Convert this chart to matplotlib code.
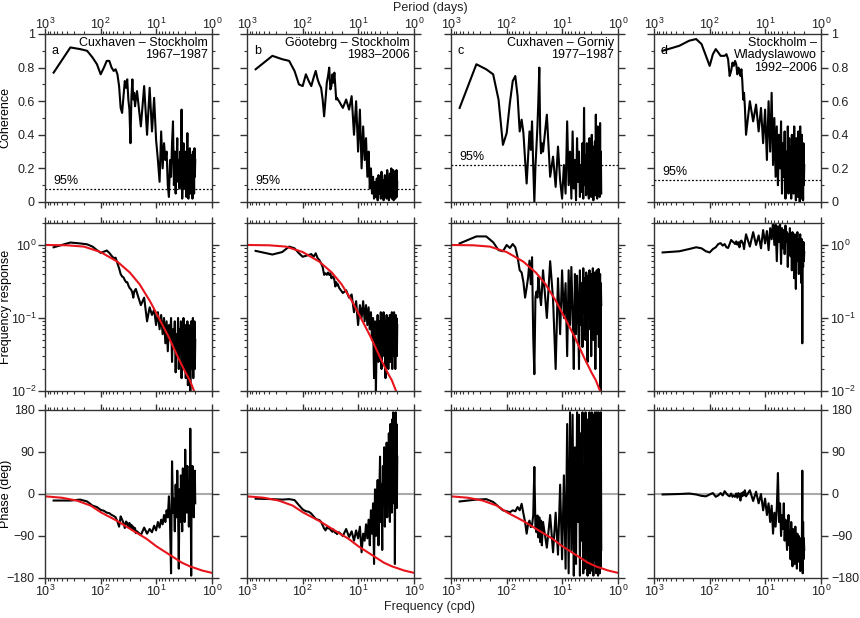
import numpy as np
import matplotlib.pyplot as plt
from matplotlib.ticker import LogLocator, MultipleLocator, FixedLocator, NullFormatter, NullLocator

plt.rcParams['font.family'] = ['Liberation Sans', 'DejaVu Sans']
plt.rcParams['font.size'] = 9
plt.rcParams['axes.linewidth'] = 1.0

# panel titles and letters
letters = ['a', 'b', 'c', 'd']
titles = ['Cuxhaven \u2013 Stockholm\n1967\u20131987',
          'G\u00f6otebrg \u2013 Stockholm\n1983\u20132006',
          'Cuxhaven \u2013 Gorniy\n1977\u20131987',
          'Stockholm \u2013\nWladyslawowo\n1992\u20132006']
conf95 = [0.08, 0.08, 0.22, 0.13]

# model curve (period in days)
red_period = [1000, 400, 200, 100, 50, 30, 20, 13, 9, 6, 4, 3, 2.5, 2.1, 1.8]
red_resp = [1.0, 0.99, 0.95, 0.80, 0.59, 0.42, 0.29, 0.17, 0.10, 0.055, 0.028, 0.018, 0.014, 0.01, 0.0078]
red_phase_period = [1000, 500, 270, 150, 100, 50, 25, 15, 10, 5, 3.5, 2.5, 1.5, 1.0]
red_phase = [-5, -8, -14, -25, -39, -58, -80, -96, -112, -135, -147, -155, -164, -169]

# low-frequency part: harmonics k/700 cpd, k = 1..30
coh_a_lo = [0.77, 0.92, 0.91, 0.90, 0.86, 0.82, 0.76, 0.80, 0.84, 0.84, 0.80, 0.78, 0.79, 0.76, 0.69,
            0.56, 0.53, 0.63, 0.72, 0.68, 0.73, 0.61, 0.55, 0.35, 0.63, 0.73, 0.61, 0.65, 0.57, 0.61]
coh_a_hi = [0.66, 0.45, 0.69, 0.40, 0.68, 0.42, 0.62, 0.37, 0.25, 0.12, 0.42, 0.20, 0.35, 0.25, 0.30,
            0.10, 0.03, 0.25, 0.15, 0.35, 0.48, 0.10, 0.30, 0.05, 0.22, 0.38, 0.12, 0.25, 0.08, 0.30,
            0.15, 0.55, 0.02, 0.20, 0.35, 0.08, 0.28, 0.12, 0.30, 0.03, 0.22, 0.41, 0.10, 0.02, 0.25,
            0.15, 0.32, 0.05, 0.20, 0.28, 0.10, 0.18, 0.02, 0.30, 0.12, 0.22, 0.05, 0.32, 0.15, 0.25]
resp_a_lo = [0.93, 1.08, 1.05, 1.02, 0.95, 0.85, 0.78, 0.81, 0.84, 0.78, 0.71, 0.66, 0.67, 0.56, 0.48,
             0.40, 0.37, 0.36, 0.33, 0.31, 0.31, 0.28, 0.26, 0.25, 0.24, 0.22, 0.19, 0.23, 0.24, 0.25]
resp_a_hi = [0.22, 0.15, 0.19, 0.09, 0.14, 0.11, 0.13, 0.08, 0.12, 0.07, 0.11, 0.06, 0.10, 0.045, 0.09,
             0.035, 0.08, 0.05, 0.10, 0.025, 0.07, 0.04, 0.09, 0.018, 0.06, 0.03, 0.10, 0.02, 0.07, 0.04,
             0.09, 0.015, 0.06, 0.03, 0.10, 0.02, 0.05, 0.08, 0.015, 0.06, 0.03, 0.09, 0.012, 0.05, 0.08,
             0.02, 0.06, 0.008, 0.04, 0.09, 0.02, 0.07, 0.03, 0.10, 0.015, 0.06, 0.03, 0.09, 0.02, 0.05]
pha_a_lo = [-14, -14, -12, -16, -25, -28, -34, -36, -40, -41, -45, -47, -50, -59, -70,
            -48, -55, -62, -73, -59, -62, -70, -62, -73, -66, -77, -70, -80, -73, -84]
pha_a_hi = [-80, -88, -72, -85, -75, -82, -68, -78, -60, -72, -55, -65, -45, -60, -35,
            -50, -5, -60, -170, 70, -40, -10, -80, 20, -50, 50, -30, -160, 10, -60,
            40, -20, -80, 55, -30, 20, -60, 95, -10, 40, -40, 60, -20, 10, -70,
            30, -30, 140, -10, -175, 20, -40, 60, -20, 30, -50, 40, -10, 50, -20]

coh_b_lo = [0.79, 0.87, 0.85, 0.84, 0.78, 0.70, 0.69, 0.76, 0.72, 0.69, 0.74, 0.78, 0.73, 0.70, 0.68,
            0.61, 0.51, 0.61, 0.71, 0.75, 0.80, 0.67, 0.69, 0.76, 0.71, 0.77, 0.69, 0.61, 0.62, 0.61]
coh_b_hi = [0.60, 0.56, 0.61, 0.55, 0.63, 0.40, 0.60, 0.30, 0.55, 0.20, 0.45, 0.25, 0.38, 0.15, 0.30,
            0.08, 0.20, 0.05, 0.15, 0.02, 0.12, 0.03, 0.14, 0.01, 0.16, 0.05, 0.12, 0.02, 0.18, 0.04,
            0.13, 0.01, 0.10, 0.16, 0.03, 0.12, 0.02, 0.19, 0.06, 0.14, 0.01, 0.10, 0.17, 0.03, 0.12,
            0.20, 0.02, 0.15, 0.05, 0.19, 0.01, 0.12, 0.06, 0.18, 0.02, 0.15, 0.04, 0.19, 0.03, 0.12]
resp_b_lo = [0.83, 0.74, 0.80, 0.95, 0.90, 0.77, 0.69, 0.71, 0.73, 0.75, 0.69, 0.77, 0.66, 0.62, 0.56,
             0.50, 0.39, 0.41, 0.39, 0.42, 0.39, 0.41, 0.35, 0.37, 0.36, 0.33, 0.27, 0.31, 0.28, 0.29]
resp_b_hi = [0.26, 0.22, 0.24, 0.19, 0.21, 0.12, 0.17, 0.08, 0.15, 0.10, 0.17, 0.09, 0.15, 0.08, 0.14,
             0.07, 0.12, 0.05, 0.10, 0.015, 0.09, 0.01, 0.06, 0.11, 0.025, 0.09, 0.04, 0.12, 0.02, 0.08,
             0.05, 0.12, 0.03, 0.09, 0.015, 0.07, 0.11, 0.03, 0.08, 0.02, 0.10, 0.04, 0.11, 0.025, 0.09,
             0.05, 0.12, 0.02, 0.07, 0.10, 0.03, 0.12, 0.05, 0.09, 0.02, 0.11, 0.04, 0.10, 0.03, 0.08]
pha_b_lo = [-10, -11, -12, -11, -13, -24, -33, -37, -38, -42, -48, -53, -55, -56, -60,
            -67, -74, -78, -71, -74, -72, -76, -79, -81, -76, -80, -83, -81, -86, -83]
pha_b_hi = [-82, -90, -75, -92, -80, -100, -78, -95, -70, -125, -85, -100, -65, -95, -55,
            -110, -35, -85, -20, -150, 10, -90, -40, 30, -110, -10, 80, -60, 20, -120,
            60, -20, 100, -70, 40, -30, 110, -50, 70, -10, 130, 20, -60, 150, 0,
            90, -40, 160, 30, 175, 60, -20, 140, -150, 100, 175, 20, 150, -30, 80]

coh_c_lo = [0.56, 0.82, 0.79, 0.76, 0.61, 0.34, 0.41, 0.59, 0.72, 0.75, 0.63, 0.42, 0.49, 0.41, 0.25,
            0.11, 0.27, 0.42, 0.31, 0.48, 0.21, 0.00, 0.21, 0.33, 0.45, 0.61, 0.80, 0.41, 0.29, 0.35]
coh_c_hi = [0.30, 0.52, 0.15, 0.27, 0.09, 0.33, 0.13, 0.02, 0.22, 0.05, 0.48, 0.10, 0.30, 0.02, 0.42,
            0.08, 0.25, 0.01, 0.38, 0.12, 0.30, 0.03, 0.22, 0.06, 0.35, 0.02, 0.56, 0.10, 0.28, 0.04,
            0.35, 0.08, 0.25, 0.02, 0.38, 0.12, 0.30, 0.03, 0.40, 0.07, 0.25, 0.01, 0.33, 0.10, 0.36,
            0.04, 0.52, 0.08, 0.28, 0.02, 0.45, 0.06, 0.33, 0.10, 0.38, 0.03, 0.47, 0.09, 0.30, 0.05]
resp_c_lo = [1.05, 1.31, 1.31, 1.09, 0.85, 0.82, 1.00, 0.91, 1.03, 0.93, 0.68, 0.45, 0.42, 0.31, 0.19,
             0.26, 0.36, 0.61, 0.29, 0.68, 0.055, 0.017, 0.19, 0.23, 0.19, 0.36, 0.26, 0.19, 0.15, 0.23]
resp_c_hi = [0.45, 0.10, 0.60, 0.18, 0.02, 0.35, 0.06, 0.45, 0.10, 0.30, 0.03, 0.45, 0.08, 0.50, 0.12,
             0.02, 0.40, 0.06, 0.38, 0.15, 0.02, 0.45, 0.08, 0.30, 0.04, 0.48, 0.12, 0.35, 0.05, 0.42,
             0.10, 0.025, 0.38, 0.15, 0.45, 0.07, 0.30, 0.03, 0.40, 0.12, 0.48, 0.05, 0.35, 0.10, 0.42,
             0.02, 0.30, 0.15, 0.45, 0.06, 0.38, 0.10, 0.47, 0.04, 0.35, 0.12, 0.40, 0.005, 0.30, 0.15]
pha_c_lo = [-16, -12, -11, -17, -27, -35, -37, -39, -35, -37, -28, -35, -21, -42, -60,
            -85, -64, -57, -71, -67, -46, 58, -71, -82, -46, -93, -50, -103, -57, -110]
pha_c_hi = [-60, -115, -45, -125, -40, -130, 20, -140, 40, -160, 150, -170, 175, -120, 170,
            -175, 100, -150, 175, -60, 170, -175, 130, -100, 175, -170, 60, -160, 175, -130,
            160, -175, 120, -80, 175, -170, 150, -120, 175, -165, 90, -175, 170, -140, 175,
            -100, 160, -170, 175, -150, 130, -175, 175, -130, 170, -170, 150, -160, 175, -120]

coh_d_lo = [0.90, 0.93, 0.96, 0.97, 0.94, 0.87, 0.81, 0.88, 0.91, 0.89, 0.87, 0.87, 0.87, 0.88, 0.85,
            0.75, 0.78, 0.83, 0.81, 0.84, 0.82, 0.76, 0.80, 0.78, 0.75, 0.79, 0.72, 0.61, 0.65, 0.57]
coh_d_hi = [0.40, 0.60, 0.48, 0.58, 0.42, 0.56, 0.35, 0.55, 0.25, 0.60, 0.30, 0.65, 0.22, 0.50, 0.15,
            0.45, 0.10, 0.40, 0.20, 0.48, 0.05, 0.35, 0.15, 0.42, 0.02, 0.30, 0.10, 0.45, 0.05, 0.38,
            0.12, 0.33, 0.02, 0.40, 0.15, 0.28, 0.05, 0.45, 0.10, 0.30, 0.01, 0.38, 0.12, 0.25, 0.03,
            0.42, 0.08, 0.30, 0.00, 0.45, 0.10, 0.28, 0.02, 0.40, 0.15, 0.30, 0.01, 0.35, 0.10, 0.22]
resp_d_lo = [0.79, 0.82, 0.88, 0.93, 0.90, 0.82, 0.79, 0.88, 0.93, 1.03, 1.06, 0.98, 1.03, 0.93, 0.91,
             1.03, 1.17, 1.12, 1.08, 1.03, 1.12, 1.01, 1.09, 0.93, 1.12, 1.15, 1.09, 1.03, 0.88, 1.09]
resp_d_hi = [1.40, 0.95, 1.50, 1.00, 1.35, 0.90, 1.60, 1.05, 1.55, 0.85, 1.70, 1.20, 2.10, 1.00, 1.90,
             0.60, 1.80, 1.10, 2.00, 0.55, 1.70, 0.90, 1.60, 0.75, 1.85, 1.10, 1.50, 0.50, 1.40, 0.85,
             1.70, 0.70, 1.30, 0.45, 1.50, 0.90, 1.20, 0.35, 1.40, 0.80, 0.25, 1.30, 0.70, 1.50, 0.60,
             1.10, 0.40, 1.20, 0.80, 1.40, 0.50, 1.00, 0.30, 1.20, 0.045, 0.90, 0.50, 1.10, 0.60, 0.80]
pha_d_lo = [-1, 0, 1, -1, -4, -5, -1, 2, -6, -3, 2, -3, 6, 1, -3,
            -5, 1, -6, -3, -6, 1, -8, 2, -3, -14, 2, -5, 4, -3, 8]
pha_d_hi = [-5, 8, -15, 5, -20, 0, -35, -10, -45, -20, -60, -25, -85, -40, -70,
            -30, 45, -60, -20, -90, -45, -75, -20, -100, -55, -85, -120, -70, -45, -110,
            -80, -140, -60, -100, -155, -75, -120, -90, -150, -70, -130, -100, -160, -85, -120,
            -145, -90, -130, -110, -165, -95, -125, -150, -100, 50, -170, -60, -140, -95, -120]

coh = [(coh_a_lo, coh_a_hi), (coh_b_lo, coh_b_hi), (coh_c_lo, coh_c_hi), (coh_d_lo, coh_d_hi)]
resp = [(resp_a_lo, resp_a_hi), (resp_b_lo, resp_b_hi), (resp_c_lo, resp_c_hi), (resp_d_lo, resp_d_hi)]
pha = [(pha_a_lo, pha_a_hi), (pha_b_lo, pha_b_hi), (pha_c_lo, pha_c_hi), (pha_d_lo, pha_d_hi)]


def to_period(lo, hi):
    f = np.concatenate([np.arange(1, len(lo) + 1) / 700.0, np.linspace(0.045, 0.5, len(hi))])
    return 1.0 / f, np.concatenate([lo, hi])


fig = plt.figure(figsize=(8.6, 6.18), dpi=100)
W, H = 860.0, 618.0
col_left = [45, 247, 451, 654]
row_top = [34, 223, 410]
aw, ah = 167, 168
spine_col = '#333333'

for r in range(3):
    for c in range(4):
        ax = fig.add_axes([col_left[c] / W, 1 - (row_top[r] + ah) / H, aw / W, ah / H])
        ax.set_xscale('log')
        ax.set_xlim(1000, 1)
        for s in ax.spines.values():
            s.set_color(spine_col)
        ax.tick_params(which='both', direction='out', colors=spine_col, labelcolor='#222222',
                       top=True, bottom=True, left=True, right=True,
                       labeltop=(r == 0), labelbottom=(r == 2),
                       labelleft=(c == 0), labelright=(c == 3))
        ax.tick_params(axis='y', which='major', length=5, width=1, pad=(1.2 if r == 1 else 2.5))
        ax.tick_params(axis='y', which='minor', length=2.5, width=0.8)
        ax.tick_params(axis='x', which='major', length=4, width=1,
                       pad=(-2.5 if r == 0 else 0))
        ax.tick_params(axis='x', which='minor', length=2.2, width=0.8)
        ax.xaxis.set_major_locator(LogLocator(base=10, numticks=10))
        ax.xaxis.set_minor_locator(LogLocator(base=10, subs=np.arange(2, 10), numticks=10))
        ax.xaxis.set_minor_formatter(NullFormatter())

        if r == 0:
            p, v = to_period(*coh[c])
            ax.plot(p, v, color='black', lw=1.5)
            ax.set_ylim(0, 1)
            ax.yaxis.set_major_locator(MultipleLocator(0.2))
            ax.yaxis.set_minor_locator(MultipleLocator(0.1))
            ax.yaxis.set_major_formatter(plt.FuncFormatter(lambda y, pos: '%g' % round(y, 1)))
            ax.axhline(conf95[c], color='black', lw=0.9, ls=(0, (1.5, 1.5)))
            ax.text(0.05, conf95[c] + 0.012, '95%', transform=ax.get_yaxis_transform(),
                    ha='left', va='bottom')
            ax.text(0.04, 0.935, letters[c], transform=ax.transAxes, ha='left', va='top')
            ax.text(0.975, 0.985, titles[c], transform=ax.transAxes, ha='right', va='top',
                    linespacing=1.1)
            if c == 0:
                ax.set_ylabel('Coherence')
        elif r == 1:
            p, v = to_period(*resp[c])
            ax.plot(p, v, color='black', lw=1.5)
            if c < 3:
                ax.plot(red_period, red_resp, color='#e8141c', lw=1.5)
            ax.set_yscale('log')
            ax.set_ylim(0.01, 2)
            ax.yaxis.set_major_locator(FixedLocator([0.01, 0.1, 1]))
            ax.yaxis.set_minor_locator(LogLocator(base=10, subs=np.arange(2, 10), numticks=10))
            ax.yaxis.set_minor_formatter(NullFormatter())
            if c == 0:
                ax.set_ylabel('Frequency response')
        else:
            ax.axhline(0, color='#aaaaaa', lw=1.5)
            p, v = to_period(*pha[c])
            ax.plot(p, v, color='black', lw=1.5)
            if c < 3:
                ax.plot(red_phase_period, red_phase, color='#e8141c', lw=1.5)
            ax.set_ylim(-180, 180)
            ax.yaxis.set_major_locator(FixedLocator([-180, -90, 0, 90, 180]))
            ax.yaxis.set_minor_locator(NullLocator())
            if c == 0:
                ax.set_ylabel('Phase (deg)')
        if c == 0:
            ax.yaxis.set_label_coords(-0.2, 0.5)

fig.text(0.5, 1 - 8 / H, 'Period (days)', ha='center', va='center', color='#222222')
fig.text(0.5, 1 - 607 / H, 'Frequency (cpd)', ha='center', va='center', color='#222222')

fig.savefig('out.png', dpi=100)
